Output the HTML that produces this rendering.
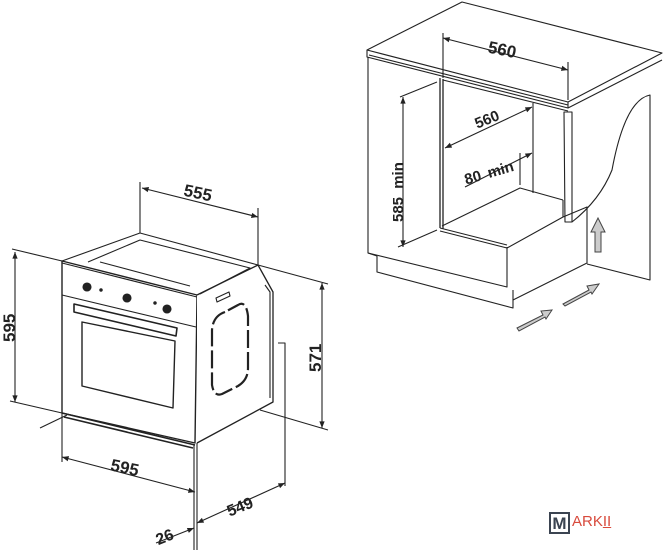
<!DOCTYPE html>
<html><head><style>
html,body{margin:0;padding:0;background:#fff;}
svg{display:block}
text{font-family:"Liberation Sans",sans-serif;font-weight:bold;fill:#222}
</style></head><body>
<svg width="663" height="550" viewBox="0 0 663 550" xmlns="http://www.w3.org/2000/svg">
<defs>
<marker id="a" viewBox="0 0 10 10" refX="10" refY="5" markerWidth="8" markerHeight="6" orient="auto-start-reverse"><path d="M0,1 L10,5 L0,9 z" fill="#222"/></marker>
</defs>
<g stroke="#222" fill="none" stroke-width="1.1" stroke-linejoin="round">
<path d="M62,261 L197,295 L195,443 L62,413 Z" fill="#fff" stroke-width="1.4"/>
<path d="M62,295 L196,327"/>
<path d="M62,263 L197,297"/>
<path d="M197,295 L258,265 L273,292 L273,402 L197,443" fill="#fff" stroke-width="1.3"/>
<path d="M62,261 L140,233 L258,265"/>
<path d="M88,262 L140,240 L250,268 L200,294"/>
<path d="M100,262 L190,286"/>
<path d="M265,285 L270,292 L270,398"/>
<path d="M82,322 L175,341 L173,408 L82,386 Z" stroke-width="1.4"/>
<path d="M74,304 L177,328 L176,336 L74,312 Z" stroke-width="1.6"/>
<path d="M62,413 L195,445 M64,417 L193,448" stroke-width="1.6"/>
<g fill="#222">
<circle cx="87" cy="287" r="4"/><circle cx="127" cy="298" r="4"/><circle cx="167" cy="309" r="4"/>
<circle cx="101" cy="290" r="1.2"/><circle cx="155" cy="303" r="1.2"/>
</g>
<path d="M225,312 Q213,316 212,330 L212,385 Q214,397 222,394 L238,386 Q248,380 248,368 L248,316 Q246,300 238,305 Z" stroke-width="2.2" stroke-dasharray="18 4"/>
<path d="M216,298 L229,292 L230,296 L217,302 Z"/>
<path d="M197,443 L197,550 M194,445 L194,550"/>
<path d="M140,233 L140,182 M258,265 L258,208"/>
<path d="M142,188 L258,217" marker-start="url(#a)" marker-end="url(#a)"/>
<path d="M12,249 L62,261 M10,401 L62,413"/>
<path d="M15,252 L15,402" marker-start="url(#a)" marker-end="url(#a)"/>
<path d="M40,428 L67,415"/>
<path d="M62,413 L62,462"/>
<path d="M62,457 L195,492" marker-start="url(#a)" marker-end="url(#a)"/>
<path d="M156,543 L194,528" marker-end="url(#a)"/>
<path d="M197,523 L285,483" marker-start="url(#a)" marker-end="url(#a)"/>
<path d="M278,343 L285,343 L285,486"/>
<path d="M258,265 L328,284 M260,410 L328,430"/>
<path d="M322,283 L322,428" marker-start="url(#a)" marker-end="url(#a)"/>
<path d="M367,50 L462,2 L662,53 L568,102 Z" fill="#fff"/>
<path d="M367,50 L367,57 L568,108 L568,102 M369,55 L568,105"/>
<path d="M568,108 L662,60"/>
<path d="M368,57 L368,253 L507,287 L507,247"/>
<path d="M377,256 L377,272 L513,308 L513,290"/>
<path d="M368,253 L377,256"/>
<path d="M440,78 L440,228 M443,79 L443,229" stroke-width="1.3"/>
<path d="M443,80 L568,111"/>
<path d="M533,103 L533,193"/>
<path d="M442,226 L520,188 L563,200"/>
<path d="M440,228 L507,245 M440,231 L507,248 L563,217 L563,200"/>
<path d="M564,112 L572,112 L572,222 L565,222 Z" fill="#fff"/>
<path d="M563,217 L587,207 L587,263 L513,300"/>
<path d="M572,222 Q600,200 612,170 Q625,100 650,95 L650,280 L587,264"/>
<path d="M437,82 L400,97 M437,230 L398,247"/>
<path d="M403,97 L403,247" marker-start="url(#a)" marker-end="url(#a)"/>
<path d="M443,78 L443,33 M568,100 L568,62"/>
<path d="M443,38 L568,70" marker-start="url(#a)" marker-end="url(#a)"/>
<path d="M445,148 L532,107" marker-start="url(#a)" marker-end="url(#a)"/>
<path d="M465,187 L532,153" marker-end="url(#a)"/>
<path d="M520,153 L520,185"/>
</g>
<g fill="#ccc" stroke="#444" stroke-width="1">
<path d="M595,252 L595,232 L591,232 L598,218 L605,232 L601,232 L601,252 Z"/>
<path d="M517,328 L543,315 L541,311 L552,310 L546,319 L545,317 L519,331 Z"/>
<path d="M563,304 L589,290 L587,286 L599,284 L592,294 L591,292 L565,306 Z"/>
</g>
<text x="184" y="199" font-size="17" transform="rotate(12 200 192)">555</text>
<text x="0" y="0" font-size="17" transform="translate(15,342) rotate(-90)">595</text>
<text x="111" y="474" font-size="17" transform="rotate(12 128 466)">595</text>
<text x="155" y="542" font-size="16" transform="rotate(-22 165 535)">26</text>
<text x="226" y="512" font-size="16" transform="rotate(-22 240 505)">549</text>
<text x="0" y="0" font-size="17" transform="translate(321,372) rotate(-90)">571</text>
<text x="488" y="56" font-size="17" transform="rotate(12 505 50)">560</text>
<text x="474" y="124" font-size="15" transform="rotate(-22 488 118)">560</text>
<text x="463" y="178" font-size="15" word-spacing="3" transform="rotate(-16 488 170)">80 min</text>
<text x="0" y="0" font-size="15" word-spacing="4" transform="translate(403,222) rotate(-90)">585 min</text>
</svg>
<div style="position:absolute;left:549px;top:512px;width:21px;height:22px;border:2px solid #3b4451;box-sizing:border-box;background:#fff;font:bold 17px 'Liberation Sans',sans-serif;color:#3b4451;text-align:center;line-height:19px">M</div>
<div style="position:absolute;left:572px;top:512px;font:15px 'Liberation Sans',sans-serif;color:#d84a3c;line-height:20px">ARK<span style="text-decoration:underline">II</span></div>
</body></html>
